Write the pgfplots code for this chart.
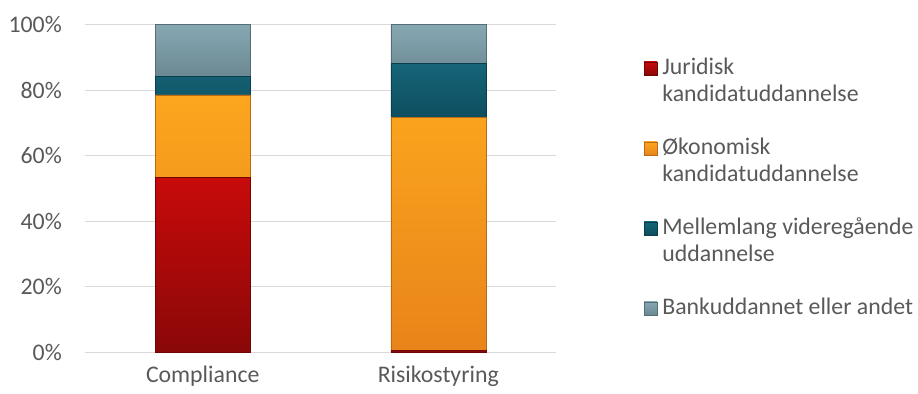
\documentclass[border=0pt]{standalone}
\usepackage{pgfplots}
\pgfplotsset{compat=1.18}
\usepackage{fontspec}
\setmainfont{Carlito}
\definecolor{txt}{HTML}{595959}
\definecolor{grd}{HTML}{D9D9D9}
\definecolor{jurT}{HTML}{C80A0A}
\definecolor{jurB}{HTML}{8A0808}
\definecolor{okT}{HTML}{FCA61E}
\definecolor{okB}{HTML}{E8841A}
\definecolor{melT}{HTML}{166578}
\definecolor{melB}{HTML}{0D4E60}
\definecolor{bankT}{HTML}{86A8B3}
\definecolor{bankB}{HTML}{6B8892}
\begin{document}
\fontsize{23.8bp}{29bp}\selectfont
\begin{tikzpicture}
\useasboundingbox (-85bp,-41.7bp) rectangle (833bp,352.3bp);
\begin{axis}[
  at={(0,0)}, anchor=south west,
  scale only axis, width=471bp, height=327.6bp,
  ybar stacked, bar width=95bp,
  xmin=-0.5, xmax=1.5, ymin=0, ymax=100,
  xtick={0,1}, xticklabels={Compliance,Risikostyring},
  ytick={0,20,40,60,80,100},
  yticklabel={\pgfmathprintnumber{\tick}\%},
  axis line style={draw=none},
  major tick length=0pt,
  ymajorgrids, grid style={grd, line width=1bp},
  tick label style={text=txt, font=\fontsize{23.8bp}{28bp}\selectfont},
  yticklabel style={anchor=east, inner sep=0pt, xshift=-23bp},
  xticklabel style={anchor=base, inner sep=0pt, yshift=-30.7bp},
  /pgf/number format/assume math mode=true,
  legend image code/.code={\path[#1] (0bp,0bp) rectangle (13bp,13bp);},
  legend style={at={(axis description cs:1.1868,0.9014)}, anchor=north west,
    draw=none, fill=none, inner sep=0pt, outer sep=0pt,
    row sep=3.1bp, column sep=3bp,
    font=\fontsize{23.8bp}{29bp}\selectfont, text=txt,
    cells={anchor=base west, inner sep=0pt, text height=16bp, text depth=6bp}},
]
\addplot[top color=jurT, bottom color=jurB, draw=jurB!80!black, line width=0.4bp] coordinates {(0,53.5) (1,0.7)};
\addlegendentry{Juridisk}
\addlegendimage{empty legend}\addlegendentry{kandidatuddannelse}
\addlegendimage{empty legend}\addlegendentry{}
\addplot[top color=okT, bottom color=okB, draw=okB!80!black, line width=0.4bp] coordinates {(0,25.1) (1,71.1)};
\addlegendentry{Økonomisk}
\addlegendimage{empty legend}\addlegendentry{kandidatuddannelse}
\addlegendimage{empty legend}\addlegendentry{}
\addplot[top color=melT, bottom color=melB, draw=melB!80!black, line width=0.4bp] coordinates {(0,5.6) (1,16.3)};
\addlegendentry{Mellemlang videregående}
\addlegendimage{empty legend}\addlegendentry{uddannelse}
\addlegendimage{empty legend}\addlegendentry{}
\addplot[top color=bankT, bottom color=bankB, draw=bankB!80!black, line width=0.4bp] coordinates {(0,15.8) (1,11.9)};
\addlegendentry{Bankuddannet eller andet}
\end{axis}
\end{tikzpicture}
\end{document}
